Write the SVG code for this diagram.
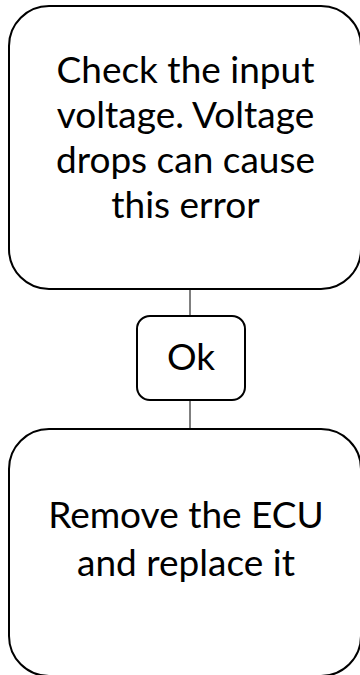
<svg xmlns="http://www.w3.org/2000/svg" width="360" height="675" viewBox="0 0 360 675">
<style>
.box{fill:#fff;stroke:#000;stroke-width:2}
.t{font-family:Lato,"Noto Sans",sans-serif;font-size:37px;fill:#000;text-anchor:middle}
.c{stroke:#000;stroke-width:1;fill:none}
</style>
<rect width="360" height="675" fill="#fff"/>
<g id="connectors">
<line class="c" x1="190" y1="290" x2="190" y2="316"/>
<line class="c" x1="190" y1="400" x2="190" y2="429"/>
</g>
<g id="n1">
<rect class="box" x="9" y="6" width="352" height="283" rx="40"/>
<text class="t" x="185.5" y="83">Check the input</text>
<text class="t" x="185.5" y="128">voltage. Voltage</text>
<text class="t" x="185.5" y="173">drops can cause</text>
<text class="t" x="185.5" y="218">this error</text>
</g>
<g id="n2">
<rect class="box" x="137" y="316" width="108" height="84" rx="13"/>
<text class="t" x="191" y="370">Ok</text>
</g>
<g id="n3">
<rect class="box" x="9" y="429" width="352" height="247" rx="40"/>
<text class="t" x="186" y="528">Remove the ECU</text>
<text class="t" x="186" y="576">and replace it</text>
</g>
</svg>
